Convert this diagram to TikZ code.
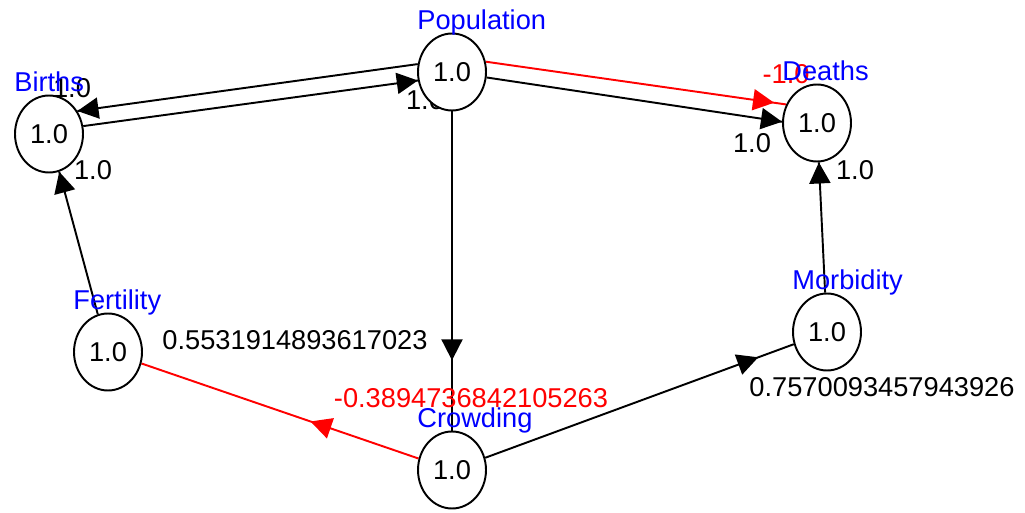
\documentclass[tikz,border=0pt]{standalone}
\usepackage{fontspec}
\setmainfont{Liberation Sans}
\usetikzlibrary{shapes.geometric, arrows.meta, decorations.markings, backgrounds}
\definecolor{varblue}{RGB}{0,0,255}
\definecolor{negred}{RGB}{255,0,0}

\begin{document}
\begin{tikzpicture}[
  x=0.02cm, y=-0.02cm,
  var/.style={
    ellipse, draw=black, fill=white, line width=1.1pt,
    minimum width=1.36cm, minimum height=1.54cm, inner sep=0pt,
    font=\fontsize{15.5}{18}\selectfont
  },
  varname/.style={
    anchor=base west, inner sep=0pt, yshift=2pt,
    text=varblue, font=\fontsize{15.5}{18}\selectfont
  },
  weight/.style={
    inner sep=0pt, font=\fontsize{15.5}{18}\selectfont
  },
  link/.style={
    line width=1.1pt,
    decoration={markings,
      mark=at position #1 with {\arrow{Triangle[length=12pt, width=12pt]}}},
    postaction={decorate}
  },
  link/.default=1,
  neglink/.style={link=#1, color=negred},
  neglink/.default=1
]
  \useasboundingbox (0,0) rectangle (1025,513);

  % variables
  \node[var] (births) at (49,134) {1.0};
  \node[var] (population) at (452,72) {1.0};
  \node[var] (deaths) at (817,123) {1.0};
  \node[var] (fertility) at (108,352) {1.0};
  \node[var] (morbidity) at (827,332) {1.0};
  \node[var] (crowding) at (452,470) {1.0};

  % links and weights, under the variables
  \begin{scope}[on background layer]
    \draw[link] (births.13) -- (population.194);
    \draw[link] (population.167) -- (births.39);
    \draw[link] (population.351) -- (deaths.178);
    \draw[neglink=0.96] (population.17) -- (deaths.149);
    \draw[link=0.78] (population) -- (crowding);
    \draw[neglink=0.39] (crowding) -- (fertility);
    \draw[link=0.885] (crowding) -- (morbidity);
    \draw[link] (morbidity) -- (deaths);
    \draw[link] (fertility) -- (births);

    \node[weight] (wpopbirths) at (72,88) {1.0};
    \node[weight] (wbirthspop) at (425,100) {1.0};
    \node[weight] (wfertbirths) at (93,170) {1.0};
    \node[weight] (wpopdeaths) at (752,143) {1.0};
    \node[weight, text=negred] (wpopdeathsneg) at (786,74) {-1.0};
    \node[weight] (wmorbdeaths) at (855,170) {1.0};
    \node[weight] (wpopcrowd) at (295,340) {0.5531914893617023};
    \node[weight, text=negred] (wcrowdfert) at (471,398) {-0.3894736842105263};
    \node[weight] (wcrowdmorb) at (882,387) {0.7570093457943926};
  \end{scope}

  % names
  \node[varname] (birthsname) at (births.north -| births.west) {Births};
  \node[varname] (populationname) at (population.north -| population.west) {Population};
  \node[varname] (deathsname) at (deaths.north -| deaths.west) {Deaths};
  \node[varname] (fertilityname) at (fertility.north -| fertility.west) {Fertility};
  \node[varname] (morbidityname) at (morbidity.north -| morbidity.west) {Morbidity};
  \node[varname] (crowdingname) at (crowding.north -| crowding.west) {Crowding};
\end{tikzpicture}
\end{document}
